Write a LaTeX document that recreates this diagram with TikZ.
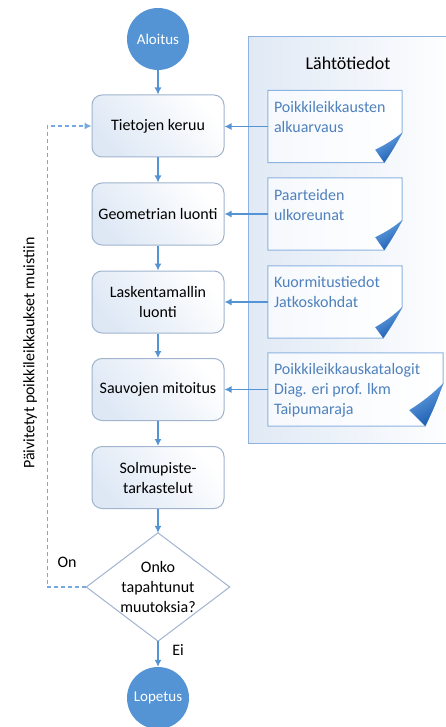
\documentclass[tikz,border=0pt]{standalone}
\usepackage{fontspec}
\setmainfont{Carlito}
\usetikzlibrary{arrows.meta,calc}
\definecolor{flowblue}{RGB}{84,148,212}
\definecolor{boxedge}{RGB}{160,180,206}
\definecolor{boxfill}{RGB}{222,232,245}
\definecolor{docedge}{RGB}{141,179,226}
\definecolor{doctext}{RGB}{79,129,189}
\definecolor{panelfill}{RGB}{224,233,245}
\definecolor{curldark}{RGB}{25,90,175}
\definecolor{curllight}{RGB}{105,165,228}
\newcommand\docshape[5]{%
  \draw[docframe] (#1.north west) -- (#1.north east) -- ($(#1.south east)+(0,-#2)$)
    -- ($(#1.south east)+(-#3,0)$) -- (#1.south west) -- cycle;
  \shade[curl] ($(#1.south east)+(0,-#2)$) to[bend left=6] ($(#1.south east)+(-#4,-#5)$)
    -- ($(#1.south east)+(-#3,0)$) to[bend right=4] ($(#1.south east)+(0,-#2)$);}
\begin{document}
\begin{tikzpicture}[x=1pt,y=-1pt,
  every node/.style={font=\fontsize{16}{20}\selectfont},
  procbox/.style={draw=boxedge, line width=1pt, rounded corners=10pt,
    minimum width=132pt, minimum height=62pt, align=center, inner sep=0pt,
    top color=white, bottom color=boxfill, shading angle=-50},
  terminal/.style={circle, fill=flowblue, minimum size=62pt, inner sep=0pt,
    text=white, font=\fontsize{15}{18}\selectfont},
  docnode/.style={minimum width=134pt, minimum height=72pt, inner sep=0pt},
  doctxt/.style={anchor=north west, inner sep=0pt, align=left, text=doctext},
  docframe/.style={draw=docedge, line width=1pt, left color=white!92!docedge, right color=white},
  curl/.style={top color=curllight, bottom color=curldark, shading angle=30},
  flow/.style={draw=flowblue, line width=1.2pt, -{Latex[length=7pt,width=7pt]}},
  back/.style={draw=flowblue!80, line width=1.2pt, dash pattern=on 4pt off 3pt,
    -{Latex[length=7pt,width=7pt]}},
  lbl/.style={inner sep=0pt}]
\clip (0,0) rectangle (446,727);
\fill[white] (0,0) rectangle (446,727);
% panel
\draw[draw=docedge, line width=1pt, left color=panelfill, right color=white!97!panelfill]
  (248,37) rectangle (452,443);
\node[lbl, font=\fontsize{18}{22}\selectfont] (title) at (348,63) {Lähtötiedot};
% terminals
\node[terminal] (start) at (158,39) {Aloitus};
\node[terminal] (stop) at (158,698) {Lopetus};
% process boxes
\node[procbox] (b1) at (158,126) {Tietojen keruu};
\node[procbox] (b2) at (158,214) {Geometrian luonti};
\node[procbox] (b3) at (158,302) {Laskentamallin\\luonti};
\node[procbox] (b4) at (158,389.5) {Sauvojen mitoitus};
\node[procbox] (b5) at (158,477.5) {Solmupiste-\\tarkastelut};
% decision
\node[minimum width=143pt, minimum height=108pt, inner sep=0pt] (dec) at (158,587) {};
\draw[draw=boxedge, line width=1pt, fill=white] (dec.north) -- (dec.east) -- (dec.south) -- (dec.west) -- cycle;
\node[inner sep=0pt, align=center] (dectext) at (dec.center) {Onko\\tapahtunut\\muutoksia?};
% documents
\node[docnode] (d1) at (335,126.5) {};
\node[docnode] (d2) at (335,214) {};
\node[docnode] (d3) at (335,302) {};
\node[docnode, minimum width=175pt, minimum height=73pt] (d4) at (355.5,389.5) {};
\docshape{d1}{30}{18}{27}{13}
\docshape{d2}{30}{18}{27}{13}
\docshape{d3}{31}{19}{27}{11}
\docshape{d4}{43}{18}{34}{16}
\node[doctxt] (t1) at ($(d1.north west)+(6,11)$) {Poikkileikkausten\\alkuarvaus};
\node[doctxt] (t2) at ($(d2.north west)+(6,11)$) {Paarteiden\\ulkoreunat};
\node[doctxt] (t3) at ($(d3.north west)+(6,10)$) {Kuormitustiedot\\Jatkoskohdat};
\node[doctxt] (t4) at ($(d4.north west)+(6,10)$) {Poikkileikkauskatalogit\\Diag. eri prof. lkm\\Taipumaraja};
% flow arrows
\draw[flow] (start) -- (b1);
\draw[flow] (b1) -- (b2);
\draw[flow] (b2) -- (b3);
\draw[flow] (b3) -- (b4);
\draw[flow] (b4) -- (b5);
\draw[flow] (b5) -- (dec.north);
\draw[flow] (dec.south) -- (stop);
\draw[flow] (d1.west) -- (d1.west -| b1.east);
\draw[flow] (d2.west) -- (d2.west -| b2.east);
\draw[flow] (d3.west) -- (d3.west -| b3.east);
\draw[flow] (d4.west) -- (d4.west -| b4.east);
% feedback
\draw[back] (dec.west) -- ++(-39,0) |- (b1.west);
\node[lbl, rotate=90] (fb) at (30,353) {Päivitetyt poikkileikkaukset muistiin};
\node[lbl] (on) at (67,562) {On};
\node[lbl] (ei) at (178,650) {Ei};
\end{tikzpicture}
\end{document}
